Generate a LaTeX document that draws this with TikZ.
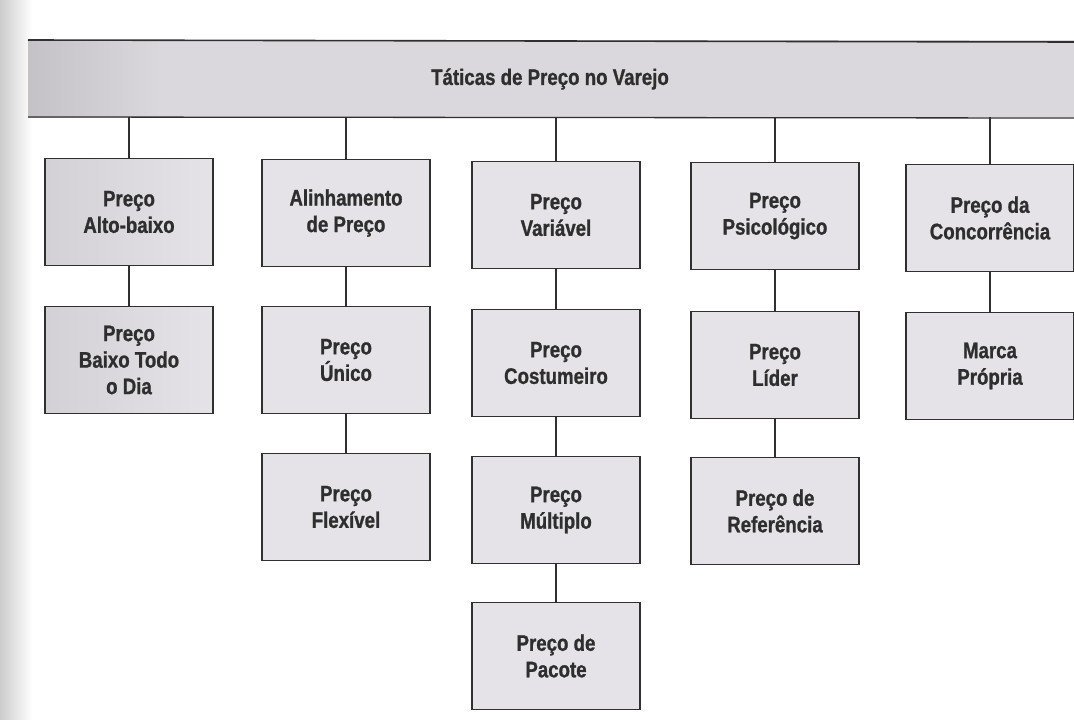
\documentclass[tikz,border=0pt]{standalone}
\usepackage{fontspec}
\setmainfont{Liberation Sans}[FakeStretch=0.83, BoldFeatures={FakeBold=1}]
\usepackage{xcolor}
\usepackage{tikz}
\usetikzlibrary{calc}

\definecolor{boxgray}{HTML}{E5E3E7}
\definecolor{boxdark}{HTML}{D3D1D5}
\definecolor{bargray}{HTML}{DAD8DC}
\definecolor{bardark}{HTML}{C4C2C6}
\definecolor{linegray}{HTML}{303030}
\definecolor{textgray}{HTML}{2E2E2E}

\begin{document}
\begin{tikzpicture}[x = 1pt, y = -1pt,
		box/.style = {draw = linegray, line width = 1.6pt, fill = boxgray, minimum width = 168pt, minimum height = 107pt, inner sep = 0pt, align = center, text = textgray, font = \fontsize{22.5}{26.5}\selectfont\bfseries},
		link/.style = {draw = linegray, line width = 1.1pt}]
			\useasboundingbox (0,0) rectangle (1074,720);
			% page edge of the scan
			\shade[left color = gray!40, right color = white] (0,0) rectangle (32,720);
			% title bar
			\fill[bargray] (28,40) rectangle (1074,117);
			\shade[left color = bardark, right color = bargray] (28,40) rectangle (160,117);
			\draw[linegray, line width = 1.6pt] (28,40) -- (1074,42);
			\draw[linegray, line width = 1.3pt] (28,117) -- (1074,118);
			\coordinate (barbase) at (28,117);
			\node[text = textgray, font = \fontsize{22.5}{26}\selectfont\bfseries] (tactics) at (550,79) {Táticas de Preço no Varejo};

			\node[box, left color = boxdark, right color = boxgray] (a1) at (129,212) {Preço\\Alto-baixo};
			\node[box, left color = boxdark, right color = boxgray] (a2) at (129,360) {Preço\\Baixo Todo\\o Dia};

			\node[box] (b1) at (346,213) {Alinhamento\\de Preço};
			\node[box] (b2) at (346,360) {Preço\\Único};
			\node[box] (b3) at (346,507) {Preço\\Flexível};

			\node[box] (c1) at (556,215) {Preço\\Variável};
			\node[box] (c2) at (556,363) {Preço\\Costumeiro};
			\node[box] (c3) at (556,510) {Preço\\Múltiplo};
			\node[box] (c4) at (556,656) {Preço de\\Pacote};

			\node[box] (d1) at (775,216) {Preço\\Psicológico};
			\node[box] (d2) at (775,365) {Preço\\Líder};
			\node[box] (d3) at (775,511) {Preço de\\Referência};

			\node[box] (e1) at (990,218) {Preço da\\Concorrência};
			\node[box] (e2) at (990,366) {Marca\\Própria};

			\foreach \col in {a1, b1, c1, d1, e1}
				\draw[link] (\col.north |- barbase) -- (\col.north);
			\foreach \up/\down in {a1/a2, b1/b2, b2/b3, c1/c2, c2/c3, c3/c4, d1/d2, d2/d3, e1/e2}
				\draw[link] (\up.south) -- (\down.north);
		\end{tikzpicture}
\end{document}
